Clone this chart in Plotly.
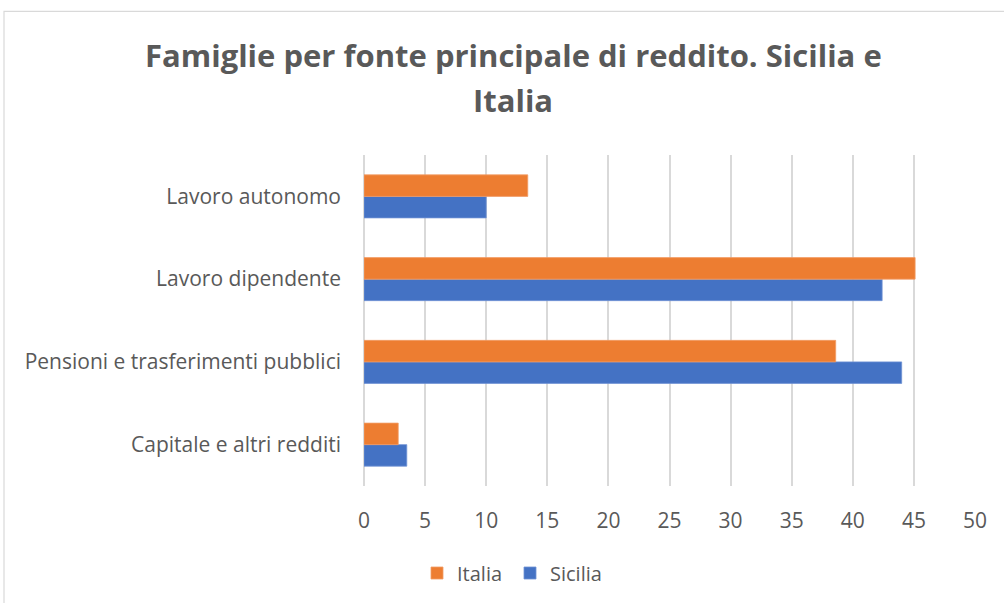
import plotly.graph_objects as go

# Main income source of households, percentage shares
categorie = ["Capitale e altri redditi", "Pensioni e trasferimenti pubblici",
             "Lavoro dipendente", "Lavoro autonomo"]
sicilia = [3.5, 44.0, 42.4, 10.0]
italia = [2.8, 38.6, 45.1, 13.4]
x_ticks = [0, 5, 10, 15, 20, 25, 30, 35, 40, 45, 50]
titolo = ["Famiglie per fonte principale di reddito. Sicilia e", "Italia"]

TEXT = "#595959"
GRID = "#d9d9d9"
FONT = "Open Sans"

W, H = 1004, 603
L, R, T, B = 364, 29, 155, 116
PW, PH = W - L - R, H - T - B


def px_x(x):
    return (x - L) / PW


def px_y(y):
    return (H - B - y) / PH


fig = go.Figure()
fig.add_trace(go.Bar(name="Sicilia", y=categorie, x=sicilia, orientation="h",
                     marker=dict(color="#4472c4", line=dict(color="#6e92d4", width=0.8))))
fig.add_trace(go.Bar(name="Italia", y=categorie, x=italia, orientation="h",
                     marker=dict(color="#ed7d31", line=dict(color="#f19c66", width=0.8))))

fig.update_layout(
    width=W, height=H,
    margin=dict(l=L, r=R, t=T, b=B),
    paper_bgcolor="white", plot_bgcolor="white",
    barmode="group", bargap=0.48, bargroupgap=0,
    font=dict(family=FONT, color=TEXT, size=20),
    legend=dict(orientation="h", x=px_x(510), xanchor="center", y=px_y(573),
                yanchor="middle", traceorder="reversed",
                font=dict(size=20, color=TEXT), itemwidth=30,
                entrywidth=48, entrywidthmode="pixels"),
    showlegend=True,
)

# Two-line chart title
for testo, ypx in zip(titolo, [55, 100]):
    fig.add_annotation(text=testo, xref="paper", yref="paper", x=px_x(513), y=px_y(ypx),
                       xanchor="center", yanchor="middle", showarrow=False,
                       font=dict(family=FONT, size=31, color=TEXT, weight="bold"))

fig.update_xaxes(range=[0, 50], tickvals=x_ticks, showgrid=True, gridcolor=GRID,
                 gridwidth=1.5, zeroline=True, zerolinecolor=GRID, zerolinewidth=1.5,
                 showline=False, ticks="", tickfont=dict(size=21, color=TEXT),
                 ticklabelstandoff=20, fixedrange=True)
fig.update_yaxes(categoryorder="array", categoryarray=categorie, showgrid=False,
                 showline=False, ticks="", tickfont=dict(size=21, color=TEXT),
                 ticklabelstandoff=22, fixedrange=True)

# Light outline around the chart area
fig.add_shape(type="rect", xref="paper", yref="paper",
              x0=px_x(4), x1=px_x(W + 20), y0=px_y(H + 20), y1=px_y(11),
              line=dict(color=GRID, width=1.2), fillcolor="rgba(0,0,0,0)", layer="below")

fig.write_html("out.html")
